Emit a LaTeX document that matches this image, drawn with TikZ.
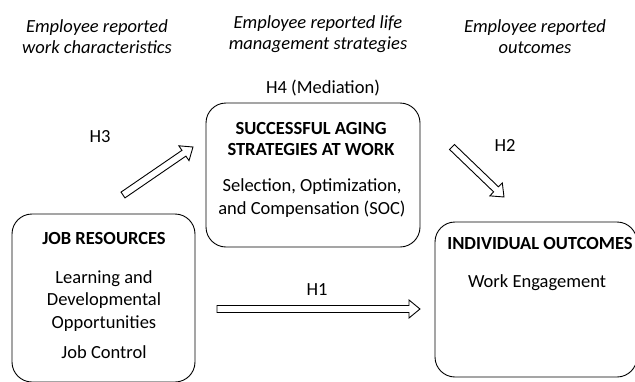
\documentclass[tikz,border=0pt]{standalone}
\usepackage{fontspec}
\setmainfont{Carlito}
\usetikzlibrary{calc}

\begin{document}
\begin{tikzpicture}[x=1pt,y=-1pt,
	box/.style={draw,rounded corners=20pt,line width=0.9pt,inner sep=0pt},
	txt/.style={align=center,inner sep=0pt,font=\fontsize{18.5}{22.5}\selectfont},
	bold/.style={txt,font=\fontsize{18.5}{21}\bfseries},
	head/.style={txt,font=\fontsize{18.5}{21.5}\itshape},
	hyp/.style={draw,line width=0.9pt,line join=miter,
		to path={let \p1=($(\tikztotarget)-(\tikztostart)$),
			\n1={atan2(\y1,\x1)}, \n2={veclen(\x1,\y1)} in
			([shift={(\tikztostart)},rotate=\n1]0pt,3.5pt)
			-- ([shift={(\tikztostart)},rotate=\n1]\n2*1pt-11pt,3.5pt)
			-- ([shift={(\tikztostart)},rotate=\n1]\n2*1pt-11pt,9pt)
			-- ([shift={(\tikztostart)},rotate=\n1]\n2*1pt,0pt)
			-- ([shift={(\tikztostart)},rotate=\n1]\n2*1pt-11pt,-9pt)
			-- ([shift={(\tikztostart)},rotate=\n1]\n2*1pt-11pt,-3.5pt)
			-- ([shift={(\tikztostart)},rotate=\n1]0pt,-3.5pt) -- cycle}}]

\useasboundingbox (0,0) rectangle (635,381);

%column headers
\node[head] (hwork) at (97,36.5) {Employee reported\\work characteristics};
\node[head] (hlife) at (318,34) {Employee reported life\\management strategies};
\node[head] (hout) at (535,36.5) {Employee reported\\outcomes};

% job resources
\node[box,minimum width=183pt,minimum height=168pt] (jobres) at (103.5,298) {};
\node[bold] (jobtitle) at (104,238) {JOB RESOURCES};
\node[txt] (learn) at (104,301) {Learning and\\Developmental\\Opportunities};
\node[txt] (control) at (104,352) {Job Control};

% SOC strategies
\node[box,minimum width=214pt,minimum height=144pt] (soc) at (313,175) {};
\node[bold] (soctitle) at (311,139) {SUCCESSFUL AGING\\STRATEGIES AT WORK};
\node[txt] (socdesc) at (312,198) {Selection, Optimization,\\and Compensation (SOC)};
\node[txt] (med) at (323,88) {H4 (Mediation)};

% outcomes
\node[box,minimum width=202pt,minimum height=155pt] (outc) at (536,299.5) {};
\node[bold] (outtitle) at (540,243) {INDIVIDUAL OUTCOMES};
\node[txt] (engage) at (537,283) {Work Engagement};

% hypotheses
\coordinate (h1a) at (217,309);
\coordinate (h1b) at (420,309);
\coordinate (h2a) at (452,147);
\coordinate (h2b) at (504,197);
\coordinate (h3a) at (123,195);
\coordinate (h3b) at (193,147);

\draw[hyp] (h1a) to (h1b);
\draw[hyp] (h2a) to (h2b);
\draw[hyp] (h3a) to (h3b);

\node[txt] (lh1) at (317,290) {H1};
\node[txt] (lh2) at (505,145) {H2};
\node[txt] (lh3) at (100,137) {H3};

\end{tikzpicture}
\end{document}
